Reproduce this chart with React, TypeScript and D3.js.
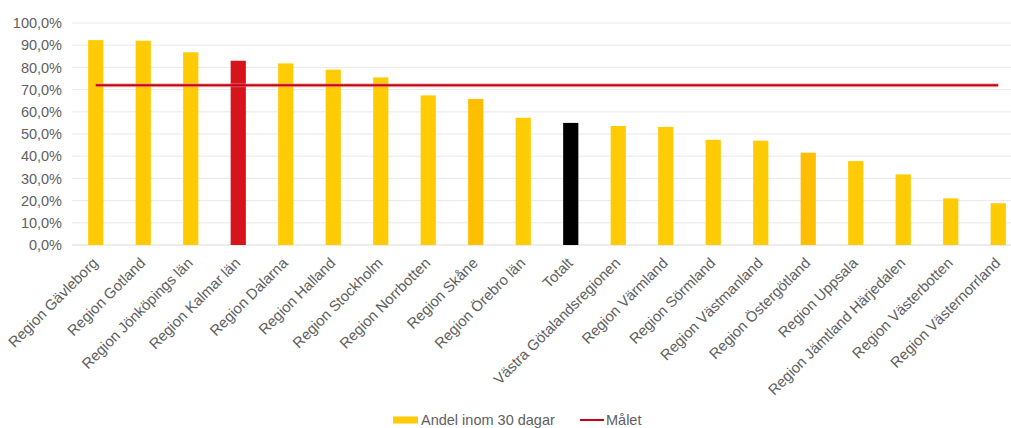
import React from "react";
import * as d3 from "d3";

const categories = [
  "Region Gävleborg",
  "Region Gotland",
  "Region Jönköpings län",
  "Region Kalmar län",
  "Region Dalarna",
  "Region Halland",
  "Region Stockholm",
  "Region Norrbotten",
  "Region Skåne",
  "Region Örebro län",
  "Totalt",
  "Västra Götalandsregionen",
  "Region Värmland",
  "Region Sörmland",
  "Region Västmanland",
  "Region Östergötland",
  "Region Uppsala",
  "Region Jämtland Härjedalen",
  "Region Västerbotten",
  "Region Västernorrland",
];

const andel = [
  0.923, 0.92, 0.868, 0.83, 0.818, 0.79, 0.755, 0.674, 0.658, 0.573,
  0.55, 0.536, 0.532, 0.474, 0.47, 0.416, 0.378, 0.318, 0.21, 0.188,
];

const malet = categories.map(() => 0.72);

const yTicks = [0, 0.1, 0.2, 0.3, 0.4, 0.5, 0.6, 0.7, 0.8, 0.9, 1.0];

const seriesNames = ["Andel inom 30 dagar", "Målet"];

const YELLOW = "#ffcb05";
const AMBER = "#ffbf00";
const RED = "#d7141c";
const BLACK = "#000000";
const GOAL = "#c00418";
const TEXT = "#606060";

const barColor = (c: string) => {
  if (c === "Region Kalmar län") return RED;
  if (c === "Totalt") return BLACK;
  if (c === "Region Skåne" || c === "Region Östergötland") return AMBER;
  return YELLOW;
};

const W = 1011;
const H = 428;
const FONT = "'Liberation Sans', Arial, sans-serif";

export default function App() {
  const x = d3
    .scaleBand<string>()
    .domain(categories)
    .range([72, 1022])
    .paddingInner(0.68)
    .paddingOuter(0.34);
  const y = d3.scaleLinear().domain([0, 1]).range([245, 23]);
  const fmt = (v: number) => (v * 100).toFixed(1).replace(".", ",") + "%";
  const cx = (c: string) => (x(c) as number) + x.bandwidth() / 2;

  const line = d3
    .line<number>()
    .x((_, i) => cx(categories[i]))
    .y((d) => y(d));

  return (
    <svg
      width={W}
      height={H}
      style={{ position: "absolute", left: 0, top: 0, background: "#fff" }}
      fontFamily={FONT}
    >
      <rect width={W} height={H} fill="#fff" />
      {yTicks.map((t) => (
        <g key={t}>
          <line
            x1={72}
            x2={1022}
            y1={y(t)}
            y2={y(t)}
            stroke={t === 0 ? "#d9d9d9" : "#e8e8e8"}
            strokeWidth={1}
          />
          <text
            x={62}
            y={y(t)}
            dy="0.36em"
            textAnchor="end"
            fontSize={14.5}
            fill={TEXT}
          >
            {fmt(t)}
          </text>
        </g>
      ))}
      {categories.map((c, i) => (
        <rect
          key={c}
          x={x(c)}
          y={y(andel[i])}
          width={x.bandwidth()}
          height={y(0) - y(andel[i])}
          fill={barColor(c)}
        />
      ))}
      <path d={line(malet) || ""} fill="none" stroke="#f08080" strokeWidth={4} opacity={0.6} />
      <path d={line(malet) || ""} fill="none" stroke={GOAL} strokeWidth={2} />
      {categories.map((c) => (
        <text
          key={c}
          transform={`translate(${cx(c) + 3},${264}) rotate(-45)`}
          textAnchor="end"
          fontSize={14.8}
          fill={TEXT}
        >
          {c}
        </text>
      ))}
      <g transform="translate(393,420)">
        <rect x={0} y={-3.5} width={25} height={7} fill={YELLOW} />
        <text x={28} y={0} dy="0.36em" fontSize={14.5} fill={TEXT}>
          {seriesNames[0]}
        </text>
        <line x1={187} x2={211} y1={0} y2={0} stroke={GOAL} strokeWidth={2} />
        <text x={213} y={0} dy="0.36em" fontSize={14.5} fill={TEXT}>
          {seriesNames[1]}
        </text>
      </g>
    </svg>
  );
}
